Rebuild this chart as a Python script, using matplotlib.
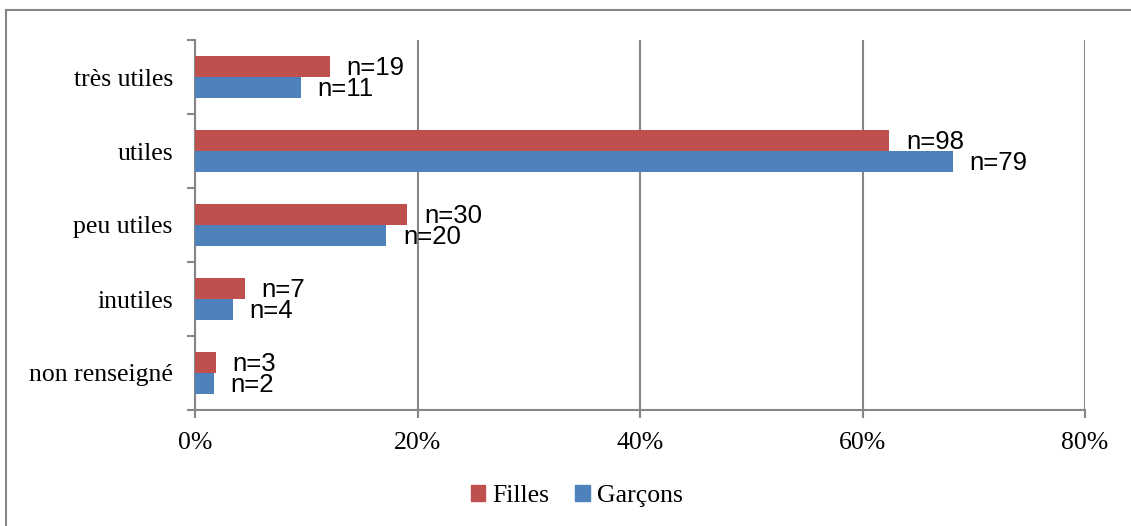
import matplotlib
matplotlib.use("Agg")
import matplotlib.pyplot as plt
from matplotlib.lines import Line2D
from matplotlib.patches import Patch
import numpy as np

categories = ["très utiles", "utiles", "peu utiles", "inutiles", "non renseigné"]
filles_pct = [12.1, 62.4, 19.1, 4.5, 1.9]
garcons_pct = [9.5, 68.1, 17.2, 3.4, 1.7]
filles_n = [19, 98, 30, 7, 3]
garcons_n = [11, 79, 20, 4, 2]
xticks = [0, 20, 40, 60, 80]
xtick_labels = ["0%", "20%", "40%", "60%", "80%"]

RED = "#C0504D"
BLUE = "#4F81BD"
GREY = "#868686"
W, H = 1131, 526

fig = plt.figure(figsize=(W / 100, H / 100), dpi=100)
ax = fig.add_axes([195 / W, 1 - 410 / H, (1085 - 195) / W, (410 - 40) / H])

y = np.arange(len(categories))
bh = 0.29
ax.barh(y - bh / 2, filles_pct, height=bh, color=RED, label="Filles", zorder=3)
ax.barh(y + bh / 2, garcons_pct, height=bh, color=BLUE, label="Garçons", zorder=3)

ax.set_xlim(0, 80)
ax.set_ylim(len(categories) - 0.5, -0.5)

serif = ["Liberation Serif", "DejaVu Serif"]
sans = ["Liberation Sans", "DejaVu Sans"]

ax.set_xticks(xticks)
ax.set_xticklabels(xtick_labels, family=serif, fontsize=18.5)
ax.set_yticks(y)
ax.set_yticklabels(categories, family=serif, fontsize=18.5)
ax.tick_params(axis="y", length=0, pad=16)
ax.tick_params(axis="x", length=6, width=1.5, color=GREY, pad=10, direction="out")
# y boundary ticks on left spine
ax.set_yticks(np.arange(len(categories) + 1) - 0.5, minor=True)
ax.tick_params(axis="y", which="minor", length=6, width=1.5, color=GREY, direction="out")

ax.grid(axis="x", color=GREY, linewidth=1.5, zorder=0)
for s in ["top", "right"]:
    ax.spines[s].set_visible(False)
for s in ["left", "bottom"]:
    ax.spines[s].set_color(GREY)
    ax.spines[s].set_linewidth(1.5)

for i in range(len(categories)):
    ax.annotate(f"n={filles_n[i]}", (filles_pct[i], y[i] - bh / 2), xytext=(12, -1),
                textcoords="offset points", va="center", ha="left",
                family=sans, fontsize=18.5, zorder=4)
    ax.annotate(f"n={garcons_n[i]}", (garcons_pct[i], y[i] + bh / 2), xytext=(12, -1),
                textcoords="offset points", va="center", ha="left",
                family=sans, fontsize=18.5, zorder=4)

handles = [Patch(color=RED), Patch(color=BLUE)]
leg = fig.legend(handles, ["Filles", "Garçons"], loc="center", bbox_to_anchor=(577 / W, 1 - 496 / H),
                 ncol=2, frameon=False, prop={"family": serif, "size": 18.5},
                 handlelength=0.55, handleheight=0.55, handletextpad=0.3, columnspacing=1.0)

# outer chart frame
fig.add_artist(Line2D([6 / W, 6 / W], [0, 1 - 10 / H], transform=fig.transFigure, color=GREY, lw=1.5))
fig.add_artist(Line2D([6 / W, 1], [1 - 10 / H, 1 - 10 / H], transform=fig.transFigure, color=GREY, lw=1.5))

fig.savefig("out.png", dpi=100)
